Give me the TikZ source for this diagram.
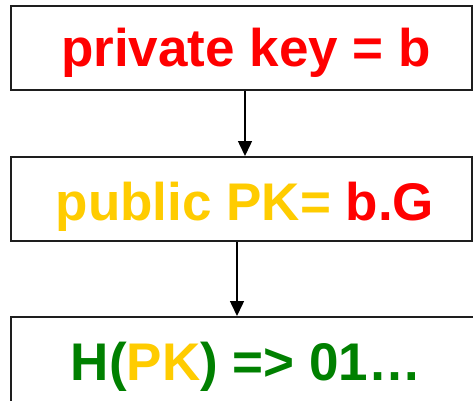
\documentclass[tikz,border=0pt]{standalone}
\usepackage{fontspec}
\setmainfont{Liberation Sans}
\usetikzlibrary{arrows.meta}
\definecolor{keyred}{HTML}{FF0000}
\definecolor{pkgold}{HTML}{FFCC00}
\definecolor{hashgreen}{HTML}{008000}
\definecolor{edge}{HTML}{1E1E1E}
\tikzset{
  stage/.style={draw=edge, line width=2pt, fill=white, inner sep=0pt,
    minimum width=461pt, minimum height=84pt},
  caption/.style={anchor=base, inner sep=0pt,
    font=\fontsize{53}{60}\selectfont\bfseries},
  flow/.style={draw=black, line width=1.5pt,
    -{Triangle[width=14pt, length=15pt]}}
}
\begin{document}
\begin{tikzpicture}[x=1pt, y=-1pt]
  \useasboundingbox (0,0) rectangle (473,400);
  \fill[white] (0,0) rectangle (473,400);

  % the three stages
  \node[stage] (b1) at (241.5,48) {};
  \node[stage] (b2) at (241.5,199) {};
  \node[stage, minimum width=465pt, minimum height=85pt] (b3) at (243.5,359.5) {};

  % their captions
  \node[caption, text=keyred] (t1) at (246,66) {private key = b};
  \node[caption] (t2) at (245,220) {\textcolor{pkgold}{public PK=} \textcolor{keyred}{b.G}};
  \node[caption, text=hashgreen] (t3) at (246,380) {H(\textcolor{pkgold}{PK}) => 01…};

  % arrows between stages
  \coordinate (c1) at (245,0);
  \coordinate (c2) at (237,0);
  \draw[flow] (b1.south -| c1) -- (b2.north -| c1);
  \draw[flow] (b2.south -| c2) -- (b3.north -| c2);
\end{tikzpicture}
\end{document}
